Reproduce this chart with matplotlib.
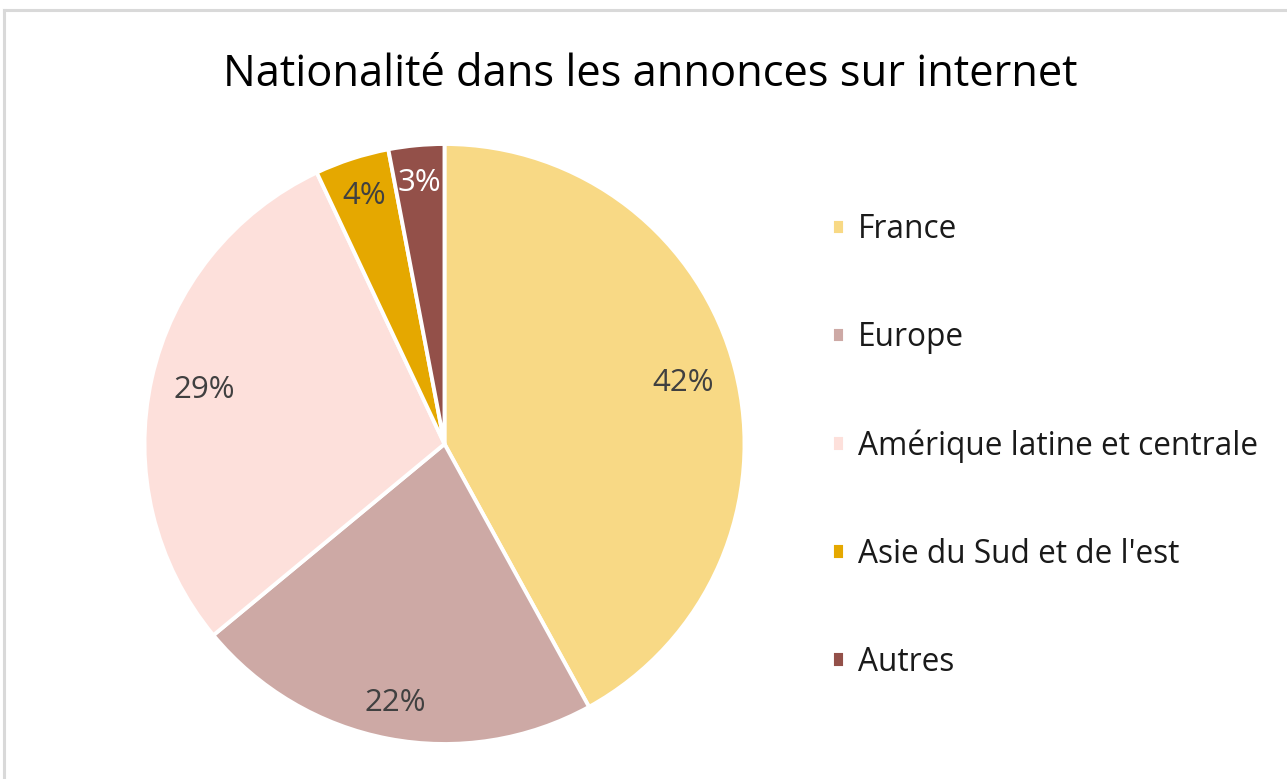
import matplotlib
matplotlib.use('Agg')
import matplotlib.pyplot as plt
from matplotlib.lines import Line2D
import numpy as np

plt.rcParams['font.family'] = ['Open Sans', 'DejaVu Sans']

categories = ['France', 'Europe', 'Amérique latine et centrale',
              "Asie du Sud et de l'est", 'Autres']
values = [42, 22, 29, 4, 3]
colors = ['#F8D985', '#CDA9A5', '#FDE0DB', '#E5A800', '#935049']
label_colors = ['#404040', '#404040', '#404040', '#404040', '#FFFFFF']
label_dist = [0.82, 0.88, 0.82, 0.87, 0.875]

W, H = 1287, 779
fig = plt.figure(figsize=(W / 100, H / 100), dpi=100)
fig.patch.set_facecolor('white')

# cadre gris (bord haut et gauche visibles)
fig.add_artist(Line2D([3.5 / W, 1], [1 - 9.5 / H, 1 - 9.5 / H],
                      color='#D9D9D9', linewidth=2.2, transform=fig.transFigure))
fig.add_artist(Line2D([3.5 / W, 3.5 / W], [0, 1 - 9.5 / H],
                      color='#D9D9D9', linewidth=2.2, transform=fig.transFigure))

cx, cy, r = 444.5, 444, 300
ax = fig.add_axes([(cx - r) / W, (H - cy - r) / H, 2 * r / W, 2 * r / H])
wedges, texts, autotexts = ax.pie(values, colors=colors, startangle=90,
                                   counterclock=False, radius=1,
                                   autopct='%1.0f%%', pctdistance=0.85,
                                   wedgeprops=dict(edgecolor='white', linewidth=2.8),
                                   textprops=dict(fontsize=22.5))
ax.set_xlim(-1, 1)
ax.set_ylim(-1, 1)

for w, t, c, d in zip(wedges, autotexts, label_colors, label_dist):
    ang = np.deg2rad((w.theta1 + w.theta2) / 2)
    t.set_position((d * np.cos(ang), d * np.sin(ang)))
    t.set_color(c)

fig.text(650 / W, 1 - 86 / H, 'Nationalité dans les annonces sur internet',
         ha='center', va='baseline', fontsize=31.3, color='#000000')

leg = fig.legend(wedges, categories, loc='center left',
                 bbox_to_anchor=(832 / W, 1 - 446 / H), frameon=False,
                 fontsize=22.8, handlelength=0.41, handleheight=0.41,
                 handletextpad=0.41, labelspacing=2.37,
                 borderpad=0, borderaxespad=0)
for t in leg.get_texts():
    t.set_color('#1A1A1A')

fig.savefig('out.png', dpi=100, facecolor='white')
